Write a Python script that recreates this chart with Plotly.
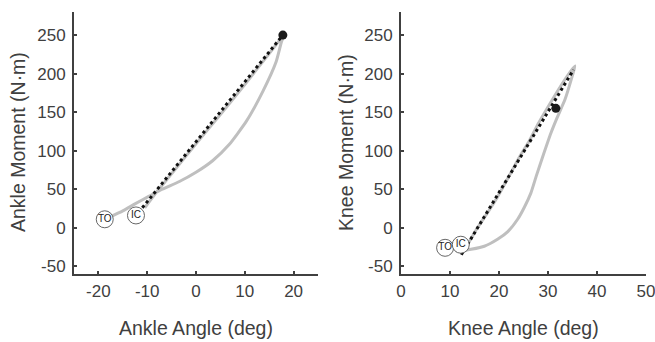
import plotly.graph_objects as go

# ---------------- data ----------------
# Ankle loop (gray): loading then unloading
ankle_loop_angle = [-10.5, -8, -5, 0, 5, 10, 15, 18, 17.5, 16.4, 13.7, 10.3, 6.8, 3.4, 0, -3.4, -6.9, -9.6, -12.5, -15.0, -18.0]
ankle_loop_moment = [26, 47, 70, 109, 147, 186, 226, 250, 241, 215, 177, 138, 108, 87, 72, 60, 50, 41, 31, 22, 13]
ankle_fit_angle = [-11.0, 17.8]
ankle_fit_moment = [26, 250]
ankle_peak_angle = [17.8]
ankle_peak_moment = [250]
ankle_event_labels = ["TO", "IC"]
ankle_event_angle = [-18.7, -12.3]
ankle_event_moment = [11, 16]

# Knee loop (gray)
knee_loop_angle = [12.5, 13.2, 14.5, 15.5, 17.5, 19.7, 22.4, 24.0, 26.2, 28.0, 30.3, 32.7, 34.5, 35.5,
                   35.0, 33.5, 31.8, 30.6, 28.8, 27.6, 26.5, 25.2, 23.8, 21.8, 19.7, 17.0, 14.3, 12.5, 11.2]
knee_loop_moment = [-30, -25, -12, -1, 18, 40, 71, 90, 113, 135, 160, 185, 202, 210,
                    198, 167, 142, 123, 90, 67, 45, 27, 11, -5, -15, -24, -28, -30, -30]
knee_fit_angle = [12.3, 35.2]
knee_fit_moment = [-35, 205]
knee_peak_angle = [31.6]
knee_peak_moment = [155]
knee_event_labels = ["TO", "IC"]
knee_event_angle = [9.0, 12.2]
knee_event_moment = [-26, -22]

y_ticks = [-50, 0, 50, 100, 150, 200, 250]
y_tick_labels = ["-50", "0", "50", "100", "150", "200", "250"]
ankle_x_ticks = [-20, -10, 0, 10, 20]
ankle_x_tick_labels = ["-20", "-10", "0", "10", "20"]
knee_x_ticks = [0, 10, 20, 30, 40, 50]
knee_x_tick_labels = ["0", "10", "20", "30", "40", "50"]

# ---------------- style ----------------
GRAY = "#bfbfbf"
AX = "#404040"
FONT = "Liberation Sans, Arial, sans-serif"

fig = go.Figure()

def add_panel(xa, ya, loop_x, loop_y, fit_x, fit_y, pk_x, pk_y, ev_x, ev_y, ev_t):
    fig.add_trace(go.Scatter(x=loop_x, y=loop_y, mode="lines",
                             line=dict(color=GRAY, width=3, shape="spline", smoothing=0.5),
                             xaxis=xa, yaxis=ya, hoverinfo="skip", showlegend=False))
    fig.add_trace(go.Scatter(x=fit_x, y=fit_y, mode="lines",
                             line=dict(color="#111111", width=3, dash="dot"),
                             xaxis=xa, yaxis=ya, hoverinfo="skip", showlegend=False))
    fig.add_trace(go.Scatter(x=pk_x, y=pk_y, mode="markers",
                             marker=dict(color="#1a1a1a", size=9),
                             xaxis=xa, yaxis=ya, hoverinfo="skip", showlegend=False))
    fig.add_trace(go.Scatter(x=ev_x, y=ev_y, mode="markers+text", text=ev_t,
                             textposition="middle center",
                             textfont=dict(family=FONT, size=10, color="#222222"),
                             marker=dict(color="white", size=17, line=dict(color="#555555", width=0.9)),
                             xaxis=xa, yaxis=ya, hoverinfo="skip", showlegend=False))

add_panel("x", "y", ankle_loop_angle, ankle_loop_moment, ankle_fit_angle, ankle_fit_moment,
          ankle_peak_angle, ankle_peak_moment, ankle_event_angle, ankle_event_moment, ankle_event_labels)
add_panel("x2", "y2", knee_loop_angle, knee_loop_moment, knee_fit_angle, knee_fit_moment,
          knee_peak_angle, knee_peak_moment, knee_event_angle, knee_event_moment, knee_event_labels)

W, H = 655, 342
ydom = [1 - 274 / H, 1 - 12 / H]

axis_common = dict(showline=True, linecolor=AX, linewidth=2, ticks="inside", ticklen=3,
                   tickwidth=1.5, tickcolor=AX, showgrid=False, zeroline=False, automargin=False,
                   ticklabeloverflow="allow",
                   tickfont=dict(family=FONT, size=17, color=AX), mirror=False, fixedrange=True)

fig.update_layout(
    template="none",
    width=W, height=H, margin=dict(l=0, r=0, t=0, b=0),
    paper_bgcolor="white", plot_bgcolor="white",
    font=dict(family=FONT, color=AX),
    xaxis=dict(domain=[74 / W, 318 / W], range=[-25, 25], tickvals=ankle_x_ticks,
               ticktext=ankle_x_tick_labels, anchor="y", ticklabelstandoff=1, **axis_common),
    yaxis=dict(domain=ydom, range=[-60, 280], tickvals=y_ticks, ticktext=y_tick_labels,
               anchor="x", ticklabelstandoff=3, **axis_common),
    xaxis2=dict(domain=[401 / W, 646 / W], range=[0, 50], tickvals=knee_x_ticks,
                ticktext=knee_x_tick_labels, anchor="y2", ticklabelstandoff=1, **axis_common),
    yaxis2=dict(domain=ydom, range=[-60, 280], tickvals=y_ticks, ticktext=y_tick_labels,
                anchor="x2", ticklabelstandoff=3, **axis_common),
)

tfont = dict(family=FONT, size=19.5, color=AX)
titles = [
    ("Ankle Angle (deg)", 196 / W, 1 - 328 / H, 0),
    ("Knee Angle (deg)", 523 / W, 1 - 328 / H, 0),
    ("Ankle Moment (N·m)", 18 / W, 1 - 142 / H, -90),
    ("Knee Moment (N·m)", 346 / W, 1 - 142 / H, -90),
]
for txt, xx, yy, ang in titles:
    fig.add_annotation(text=txt, x=xx, y=yy, xref="paper", yref="paper", showarrow=False,
                       xanchor="center", yanchor="middle", textangle=ang, font=tfont)

fig.write_html("out.html", config={"displayModeBar": False},
               post_script="document.body.style.margin='0px';document.body.style.overflow='hidden';")
